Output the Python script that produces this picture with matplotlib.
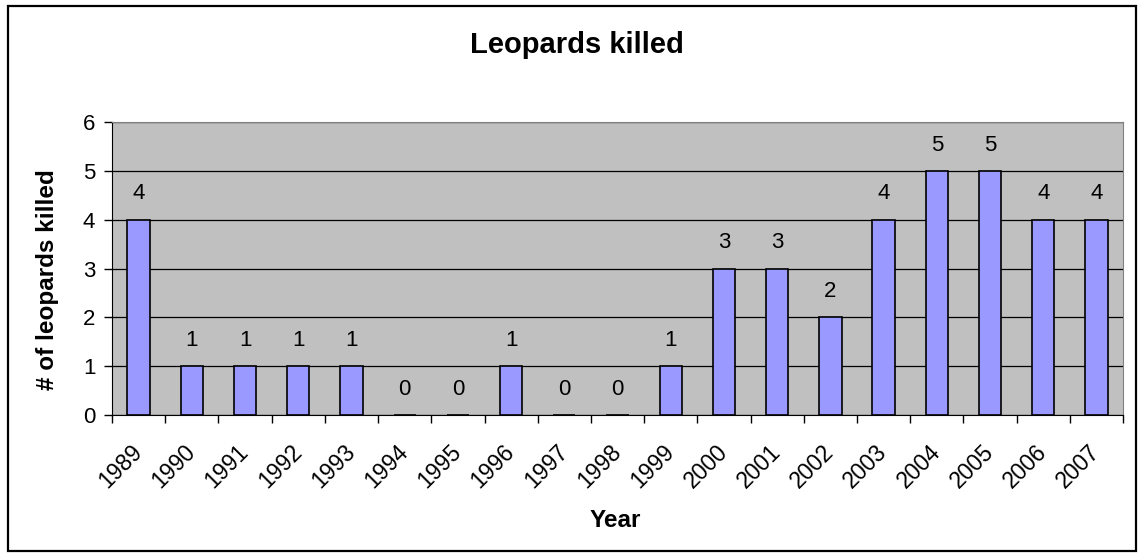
import matplotlib.pyplot as plt
import matplotlib.transforms as mtransforms
from matplotlib.patches import Rectangle

years = ['1989', '1990', '1991', '1992', '1993', '1994', '1995', '1996', '1997', '1998',
         '1999', '2000', '2001', '2002', '2003', '2004', '2005', '2006', '2007']
killed = [4, 1, 1, 1, 1, 0, 0, 1, 0, 0, 1, 3, 3, 2, 4, 5, 5, 4, 4]
y_ticks = [0, 1, 2, 3, 4, 5, 6]

plt.rcParams['font.family'] = ['Liberation Sans', 'DejaVu Sans']

fig = plt.figure(figsize=(11.42, 5.58), dpi=100)
ax = fig.add_axes([0.0981, 0.2563, 0.8853, 0.525])

# outer chart border
fig.patches.append(Rectangle((0.007, 0.012), 0.988, 0.977, transform=fig.transFigure,
                             fill=False, edgecolor='black', linewidth=1.6))

x = range(len(years))
ax.set_facecolor('#C0C0C0')
ax.bar(x, killed, width=0.42, color='#9999FF', edgecolor='black', linewidth=1.2, zorder=3)

for xi, v in zip(x, killed):
    ax.annotate(str(v), (xi, v), xytext=(0, 18.5), textcoords='offset points',
                ha='center', va='center', fontsize=16)

ax.set_xlim(-0.5, len(years) - 0.5)
ax.set_ylim(0, 6)
ax.set_yticks(y_ticks)
ax.yaxis.grid(True, color='black', linewidth=0.9, zorder=1)
ax.set_axisbelow(True)

# ticks on category boundaries, labels at category centres
ax.set_xticks([i - 0.5 for i in range(len(years) + 1)])
ax.set_xticklabels([])
ax.set_xticks(list(x), minor=True)
ax.set_xticklabels(years, minor=True, rotation=45, ha='right', va='center',
                   rotation_mode='anchor', fontsize=16.5)
shift = mtransforms.ScaledTranslation(-12 / 100, -3 / 100, fig.dpi_scale_trans)
for lbl in ax.xaxis.get_minorticklabels():
    lbl.set_transform(lbl.get_transform() + shift)
ax.tick_params(axis='x', which='minor', length=0, pad=24)
ax.tick_params(axis='x', which='major', length=6, width=1, direction='out')
ax.tick_params(axis='y', length=6, width=1, labelsize=16, pad=6)

ax.spines['top'].set_color('#808080')
ax.spines['right'].set_color('#808080')
ax.spines['left'].set_color('black')
ax.spines['bottom'].set_color('black')

fig.text(0.505, 0.919, 'Leopards killed', fontsize=21, fontweight='bold',
         ha='center', va='center')
fig.text(0.539, 0.068, 'Year', fontsize=17.5, fontweight='bold', ha='center', va='center')
fig.text(0.042, 0.498, '# of leopards killed', fontsize=17.5, fontweight='bold',
         rotation=90, ha='center', va='center')

fig.savefig('out.png', dpi=100)
